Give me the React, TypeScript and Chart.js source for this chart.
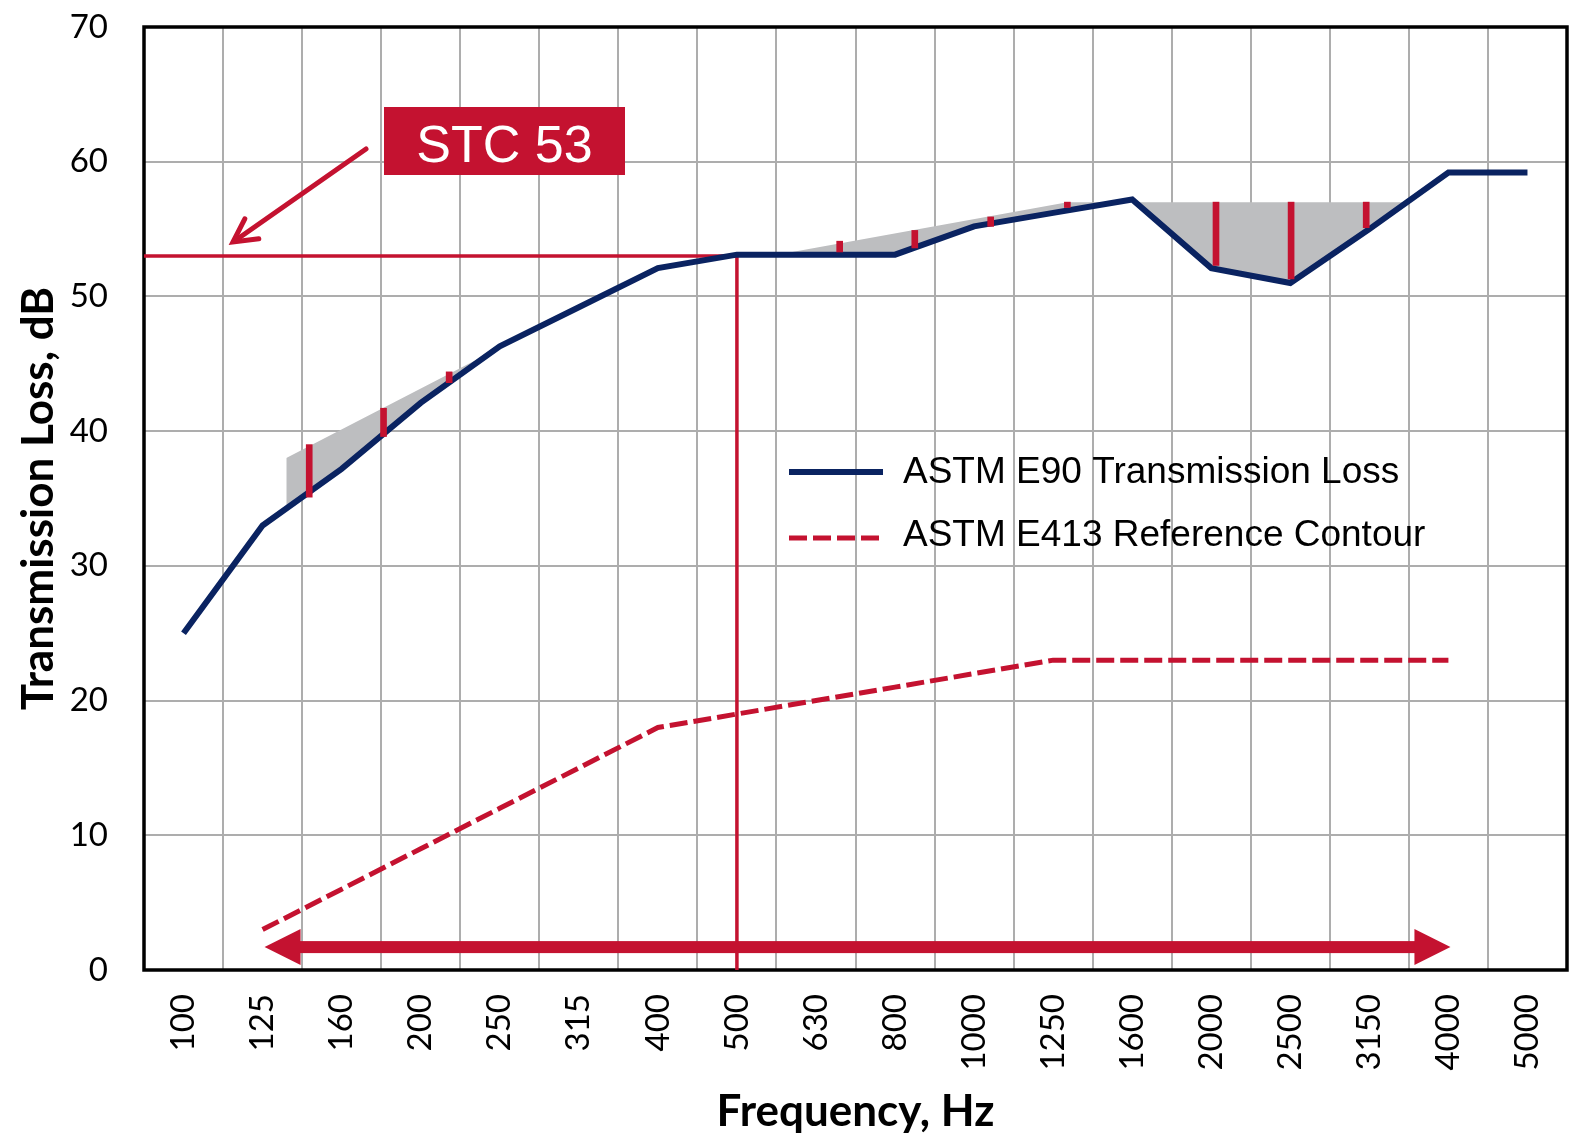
import React, { useEffect, useRef } from 'react';
import { Chart, registerables } from 'chart.js';

Chart.register(...registerables);

// ---- data ----
const frequencies = ['100', '125', '160', '200', '250', '315', '400', '500', '630', '800', '1000', '1250', '1600', '2000', '2500', '3150', '4000', '5000'];
const transmissionLoss = [25.0, 33.0, 37.2, 42.1, 46.3, 49.2, 52.1, 53.1, 53.1, 53.1, 55.2, 56.2, 57.2, 52.1, 51.0, 55.0, 59.2, 59.2];
const referenceContour = [null, 3, 6, 9, 12, 15, 18, 19, 20, 21, 22, 23, 23, 23, 23, 23, 23, null];
const yTickValues = [0, 10, 20, 30, 40, 50, 60, 70];

// fitted STC contour overlay as drawn in the figure (band-index units on a continuous axis)
const fittedContourX = [1.3, 3.84, 7.42, 11.18, 16.0];
const fittedContourY = [38.0, 45.7, 53.0, 57.0, 57.0];

// deficiency markers (band-index units)
const deficiencyX = [1.59, 2.53, 3.36, 8.3, 9.25, 10.21, 11.18, 13.06, 14.01, 14.96];
const deficiencyLow = [35.1, 39.6, 43.6, 53.3, 53.6, 55.2, 56.6, 52.3, 51.3, 55.1];
const deficiencyHigh = [39.0, 41.7, 44.4, 54.1, 54.9, 55.9, 57.0, 57.0, 57.0, 57.0];

const stcValue = 53;
const stcFrequency = '500';
const stcLabel = 'STC 53';
const rangeArrowEnds = ['125', '4000'];
const rangeArrowLevel = 1.7;

const seriesLabels = ['ASTM E90 Transmission Loss', 'ASTM E413 Reference Contour'];

// ---- styles ----
const NAVY = '#0A2361';
const RED = '#C41230';
const GRAY_FILL = '#BDBEC0';
const GRID = '#ADADAD';
const TICK_FONT = 'Lato';
const LEGEND_FONT = '"Liberation Sans", Arial, sans-serif';

const annotationPlugin = {
  id: 'stcAnnotations',
  beforeDatasetsDraw(chart: any) {
    const { ctx, chartArea: a } = chart;
    ctx.save();
    ctx.strokeStyle = '#000';
    ctx.lineWidth = 3.5;
    ctx.strokeRect(a.left, a.top, a.right - a.left, a.bottom - a.top);
    ctx.restore();
  },
  afterDatasetsDraw(chart: any) {
    const { ctx } = chart;
    const xs = chart.scales.x;
    const ys = chart.scales.y;
    ctx.save();

    // double-headed range arrow
    const xl = xs.getPixelForValue(frequencies.indexOf(rangeArrowEnds[0])) + 2;
    const xr = xs.getPixelForValue(frequencies.indexOf(rangeArrowEnds[1])) + 2;
    const ya = ys.getPixelForValue(rangeArrowLevel);
    const head = 36;
    const half = 18;
    ctx.fillStyle = RED;
    ctx.fillRect(xl + head - 1, ya - 6, xr - xl - 2 * head + 2, 12);
    ctx.beginPath();
    ctx.moveTo(xl, ya);
    ctx.lineTo(xl + head, ya - half);
    ctx.lineTo(xl + head, ya + half);
    ctx.closePath();
    ctx.fill();
    ctx.beginPath();
    ctx.moveTo(xr, ya);
    ctx.lineTo(xr - head, ya - half);
    ctx.lineTo(xr - head, ya + half);
    ctx.closePath();
    ctx.fill();

    // STC label box
    const bx = 384, by = 107, bw = 241, bh = 68;
    ctx.fillStyle = RED;
    ctx.fillRect(bx, by, bw, bh);
    ctx.fillStyle = '#fff';
    ctx.font = `52px ${LEGEND_FONT}`;
    ctx.textAlign = 'center';
    ctx.textBaseline = 'alphabetic';
    ctx.fillText(stcLabel, bx + bw / 2, 162);

    // callout arrow
    const tx = 366, ty = 149, hx = 233, hy = 242;
    ctx.strokeStyle = RED;
    ctx.lineWidth = 5;
    ctx.lineCap = 'round';
    ctx.beginPath();
    ctx.moveTo(tx, ty);
    ctx.lineTo(hx + 3, hy - 2);
    ctx.stroke();
    const ang = Math.atan2(ty - hy, tx - hx);
    const arm = 26;
    const spread = (28 * Math.PI) / 180;
    ctx.beginPath();
    ctx.moveTo(hx + arm * Math.cos(ang - spread), hy + arm * Math.sin(ang - spread));
    ctx.lineTo(hx, hy);
    ctx.lineTo(hx + arm * Math.cos(ang + spread), hy + arm * Math.sin(ang + spread));
    ctx.lineJoin = 'miter';
    ctx.stroke();

    // legend
    ctx.lineCap = 'butt';
    ctx.strokeStyle = NAVY;
    ctx.lineWidth = 6;
    ctx.beginPath();
    ctx.moveTo(789, 472);
    ctx.lineTo(883, 472);
    ctx.stroke();
    ctx.strokeStyle = RED;
    ctx.lineWidth = 5;
    ctx.setLineDash([18, 6]);
    ctx.beginPath();
    ctx.moveTo(789, 538);
    ctx.lineTo(883, 538);
    ctx.stroke();
    ctx.setLineDash([]);
    ctx.fillStyle = '#000';
    ctx.font = `37px ${LEGEND_FONT}`;
    ctx.textAlign = 'left';
    ctx.fillText(seriesLabels[0], 903, 483);
    ctx.fillText(seriesLabels[1], 903, 546);

    ctx.restore();
  },
};

export default function App() {
  const canvasRef = useRef<HTMLCanvasElement | null>(null);

  useEffect(() => {
    const canvas = canvasRef.current;
    if (!canvas) return;
    const stcIndex = frequencies.indexOf(stcFrequency);

    const chart = new Chart(canvas, {
      type: 'line',
      data: {
        labels: frequencies,
        datasets: [
          {
            type: 'bar',
            label: 'deficiency',
            xAxisID: 'xo',
            yAxisID: 'y',
            data: deficiencyX.map((x, i) => ({ x, y: [deficiencyLow[i], deficiencyHigh[i]] })) as any,
            backgroundColor: RED,
            borderWidth: 0,
            barThickness: 6,
            grouped: false,
            order: 0,
          } as any,
          {
            label: seriesLabels[0],
            xAxisID: 'x',
            yAxisID: 'y',
            data: transmissionLoss,
            borderColor: NAVY,
            borderWidth: 6,
            pointRadius: 0,
            fill: false,
            order: 1,
          },
          {
            label: seriesLabels[1],
            xAxisID: 'x',
            yAxisID: 'y',
            data: referenceContour,
            borderColor: RED,
            borderWidth: 5,
            borderDash: [18, 6],
            pointRadius: 0,
            fill: false,
            order: 2,
          },
          {
            label: 'stc lines',
            xAxisID: 'xo',
            yAxisID: 'y',
            data: [
              { x: -0.5, y: stcValue },
              { x: stcIndex, y: stcValue },
              { x: stcIndex, y: 0 },
            ],
            borderColor: RED,
            borderWidth: 3.5,
            pointRadius: 0,
            fill: false,
            order: 2,
          },
          {
            label: 'fitted contour',
            xAxisID: 'xo',
            yAxisID: 'y',
            data: fittedContourX.map((x, i) => ({ x, y: fittedContourY[i] })),
            borderColor: 'transparent',
            borderWidth: 1,
            pointRadius: 0,
            fill: { target: 1, above: GRAY_FILL, below: 'rgba(0,0,0,0)' },
            order: 3,
          } as any,
        ],
      },
      options: {
        responsive: false,
        devicePixelRatio: 1,
        animation: false,
        layout: { padding: { top: 27, right: 8, left: 0, bottom: 0 } },
        plugins: {
          legend: { display: false },
          tooltip: { enabled: false },
        },
        scales: {
          x: {
            type: 'category',
            offset: true,
            grid: { offset: true, color: GRID, lineWidth: 2, drawTicks: false },
            border: { display: false },
            ticks: {
              autoSkip: false,
              maxRotation: 90,
              minRotation: 90,
              padding: 24,
              color: '#000',
              font: { family: TICK_FONT, size: 33 },
            },
            title: {
              display: true,
              text: 'Frequency, Hz',
              color: '#000',
              font: { family: TICK_FONT, size: 44, weight: 'bold' },
              padding: { top: 0, bottom: 0 },
            },
            afterFit: (s: any) => {
              s.height = 168;
              s.paddingLeft = 0;
              s.paddingRight = 0;
            },
          },
          xo: {
            type: 'linear',
            display: false,
            min: -0.5,
            max: 17.5,
            offset: false,
          },
          y: {
            min: 0,
            max: 70,
            afterBuildTicks: (s: any) => {
              s.ticks = yTickValues.map((v) => ({ value: v }));
            },
            grid: { color: GRID, lineWidth: 2, drawTicks: false },
            border: { display: false },
            ticks: {
              padding: 36,
              color: '#000',
              font: { family: TICK_FONT, size: 33 },
            },
            title: {
              display: true,
              text: 'Transmission Loss, dB',
              color: '#000',
              font: { family: TICK_FONT, size: 44, weight: 'bold' },
              padding: { top: 12, bottom: 0 },
            },
            afterFit: (s: any) => {
              s.width = 144;
              s.paddingTop = 0;
              s.paddingBottom = 0;
            },
          },
        } as any,
      },
      plugins: [annotationPlugin],
    });

    return () => chart.destroy();
  }, []);

  return (
    <div style={{ position: 'absolute', left: 0, top: 0, width: 1575, height: 1138, background: '#fff' }}>
      <canvas ref={canvasRef} width={1575} height={1138} style={{ display: 'block', width: 1575, height: 1138 }} />
    </div>
  );
}
